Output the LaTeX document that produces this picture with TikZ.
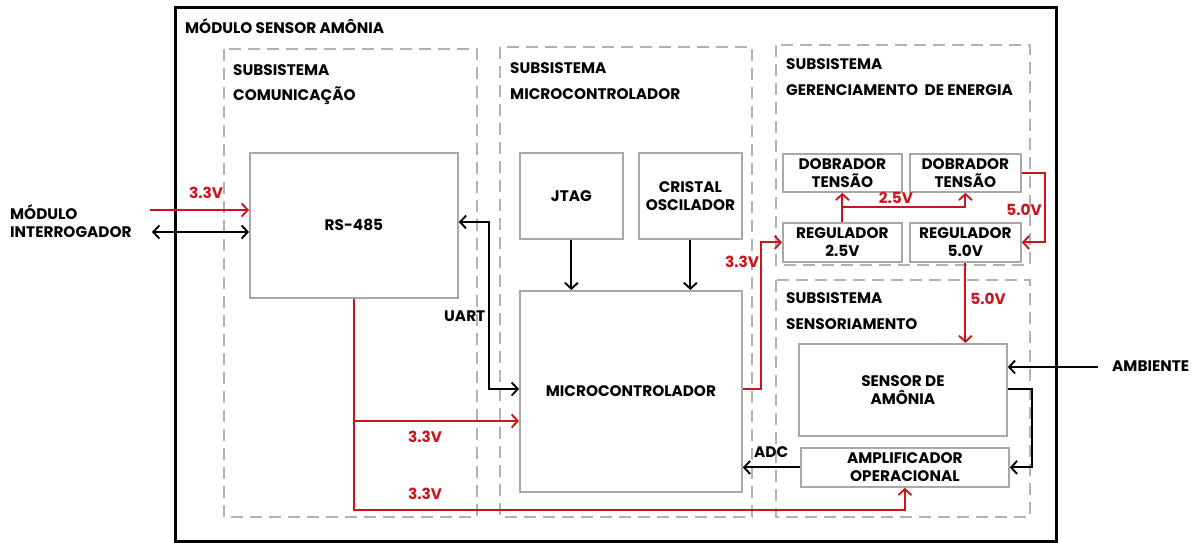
\documentclass[tikz,border=0pt]{standalone}
\usepackage{fontspec}
\setmainfont{Poppins}
\usetikzlibrary{arrows.meta}
\definecolor{vred}{RGB}{204,20,30}
\definecolor{bgray}{RGB}{168,168,168}
\definecolor{dgray}{RGB}{178,178,178}
\begin{document}
\begin{tikzpicture}[x=1pt,y=-1pt,
  blk/.style={draw=bgray, line width=1.8pt, font=\bfseries\fontsize{15.3}{18}\selectfont, align=center, inner sep=0pt, anchor=north west},
  sub/.style={draw=dgray, line width=1.8pt, dash pattern=on 12pt off 7pt},
  lbl/.style={font=\bfseries\fontsize{15.3}{18}\selectfont, anchor=west, inner sep=0pt},
  vlt/.style={font=\bfseries\fontsize{15.3}{18}\selectfont, text=vred, inner sep=0pt},
  conn/.style={line width=1.9pt, -{Straight Barb[length=6pt,width=13pt]}},
  conn2/.style={line width=1.9pt, {Straight Barb[length=6pt,width=13pt]}-{Straight Barb[length=6pt,width=13pt]}},
  pw/.style={conn, draw=vred}]
\useasboundingbox (0,0) rectangle (1202,543);
% outer module
\draw[line width=3pt] (175,8) rectangle (1056,541);
\node[lbl] (tmod) at (185,26) {MÓDULO SENSOR AMÔNIA};
% subsystems
\draw[sub] (224,49) rectangle (477,517);
\draw[sub] (500,47) rectangle (752,517);
\draw[sub] (776,45) rectangle (1030,265);
\draw[sub] (776,280) rectangle (1030,517);
\node[lbl] (s1a) at (233,70) {SUBSISTEMA};
\node[lbl] (s1b) at (233,96) {COMUNICAÇÃO};
\node[lbl] (s2a) at (510,68) {SUBSISTEMA};
\node[lbl] (s2b) at (510,94) {MICROCONTROLADOR};
\node[lbl] (s3a) at (786,64) {SUBSISTEMA};
\node[lbl] (s3b) at (786,90) {GERENCIAMENTO\ \ DE ENERGIA};
\node[lbl] (s4a) at (786,298) {SUBSISTEMA};
\node[lbl] (s4b) at (786,324) {SENSORIAMENTO};
% blocks
\node[blk, minimum width=208pt, minimum height=145pt] (rs) at (249,152) {RS-485};
\node[blk, minimum width=103pt, minimum height=86pt] (jtag) at (519,152) {JTAG};
\node[blk, minimum width=103pt, minimum height=86pt] (cris) at (638,152) {CRISTAL\\OSCILADOR};
\node[blk, minimum width=222pt, minimum height=201pt] (mc) at (519,290) {MICROCONTROLADOR};
\node[blk, minimum width=119pt, minimum height=38pt] (dob1) at (782,153) {DOBRADOR\\TENSÃO};
\node[blk, minimum width=111pt, minimum height=38pt] (dob2) at (909,153) {DOBRADOR\\TENSÃO};
\node[blk, minimum width=119pt, minimum height=39pt] (reg25) at (782,222) {REGULADOR\\2.5V};
\node[blk, minimum width=111pt, minimum height=39pt] (reg50) at (909,222) {REGULADOR\\5.0V};
\node[blk, minimum width=208pt, minimum height=92pt] (sens) at (798,343) {SENSOR DE\\AMÔNIA};
\node[blk, minimum width=208pt, minimum height=39pt] (amp) at (800,447) {AMPLIFICADOR\\OPERACIONAL};
% external labels
\node[lbl, align=left] (interr) at (10,221) {MÓDULO\\INTERROGADOR};
\node[lbl] (amb) at (1112,366) {AMBIENTE};
\node[lbl] (uart) at (444,316) {UART};
\node[lbl] (adc) at (754,452) {ADC};
% coordinates
\coordinate (inR) at (150,210);
\coordinate (inB) at (152,232);
\coordinate (ambS) at (1098,367);
% connectors
\draw[pw] (inR) -- (inR -| rs.west);
\draw[conn2] (inB) -- (inB -| rs.west);
\draw[conn2] (rs.east |- 0,222) -- (489,222) |- (mc.west |- 0,389);
\draw[conn] (jtag.south) -- (jtag.south |- mc.north);
\draw[conn] (cris.south) -- (cris.south |- mc.north);
\draw[pw] (rs.south) -- (rs.south |- 0,510) -| (amp.south);
\draw[pw] (rs.south |- 0,421) -- (mc.west |- 0,421);
\draw[pw] (mc.east |- 0,389) -- (761,389) |- (reg25.west);
\draw[pw] (reg25.north) -- (dob1.south);
\draw[pw] (reg25.north |- 0,207) -| (dob2.south);
\draw[pw] (dob2.east) -- (dob2.east -| 1045,0) |- (reg50.east);
\draw[pw] (reg50.south) -- (reg50.south |- sens.north);
\draw[conn] (ambS) -- (ambS -| sens.east);
\draw[conn] (sens.east |- 0,389) -- (1032,389) |- (amp.east);
\draw[conn] (amp.west) -- (amp.west -| mc.east);
% voltage labels
\node[vlt] (v1) at (206,193) {3.3V};
\node[vlt] (v2) at (425,437) {3.3V};
\node[vlt] (v3) at (425,494) {3.3V};
\node[vlt] (v4) at (742,262) {3.3V};
\node[vlt] (v5) at (896,198) {2.5V};
\node[vlt] (v6) at (1024,210) {5.0V};
\node[vlt] (v7) at (988,299) {5.0V};
\end{tikzpicture}
\end{document}
